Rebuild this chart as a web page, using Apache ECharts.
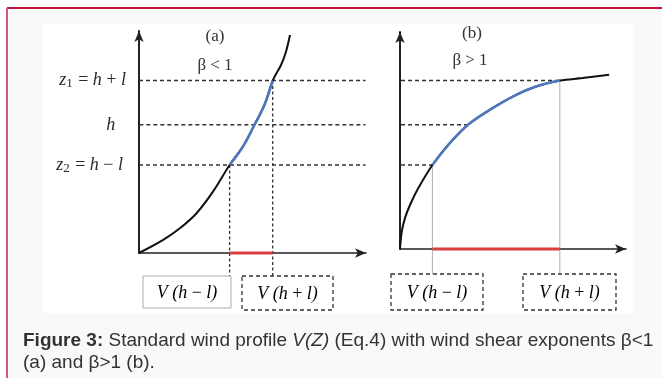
<!DOCTYPE html>
<html><head><meta charset="utf-8">
<script src="https://cdn.jsdelivr.net/npm/echarts@6/dist/echarts.min.js"></script>
<style>html,body{margin:0;padding:0;background:#fff}#c{width:662px;height:378px}</style>
</head><body><div id="c"></div>
<script>
// ---- data (abstract units: V horizontal, z vertical) ----
const levels = [77.6, 57.7, 39.6];                 // z1 = h+l, h, z2 = h-l
const levelLabels = [
  '{i|z}{s|1}{r| = }{i|h}{r| + }{i|l}',
  '{i|h}',
  '{i|z}{s|2}{r| = }{i|h}{r| − }{i|l}'
];
const curveA_V = [0, 10.9, 18.4, 25.9, 33.3, 40.8, 46.8, 52.0, 56.5, 60.2, 64.0, 66.2, 68.0];
const curveA_Z = [0, 5.9, 11.1, 17.9, 27.6, 39.6, 47.9, 57.7, 66.7, 77.6, 84.7, 90.7, 98.2];
const curveB_V = [0, 0.8, 2.2, 4.5, 8.2, 14.6, 21.7, 30.6, 40.4, 50.8, 61.3, 72.0, 82.2, 94.2];
const curveB_Z = [1.8, 9.6, 15.6, 21.6, 29.1, 39.6, 48.6, 57.7, 64.4, 70.4, 74.9, 77.6, 78.7, 80.2];
const crossA = [60.2, 52.0, 40.8];                 // V on curve (a) at z1, h, z2
const crossB = [72.0, 30.6, 14.6];                 // V on curve (b) at z1, h, z2
const panelTitles = ['(a)', '(b)'];
const betaLabels = ['β < 1', 'β > 1'];
const boxLabels = ['{i|V}{i| (}{i|h}{r| − }{i|l}{i|)}', '{i|V}{i| (}{i|h}{r| + }{i|l}{i|)}'];
const captionText = '{b|Figure 3:} Standard wind profile {it|V(Z)} (Eq.4) with wind shear exponents β<1\n(a) and β>1 (b).';

// ---- styles ----
const SERIF = '"Liberation Serif","DejaVu Serif",serif';
const SANS = '"Liberation Sans",Arial,sans-serif';
const INK = '#2a2a2a';
function mathRich(size) {
  return {
    i: {fontFamily: SERIF, fontStyle: 'italic', fontSize: size, color: INK, lineHeight: size + 2},
    r: {fontFamily: SERIF, fontSize: size, color: INK, lineHeight: size + 2},
    s: {fontFamily: SERIF, fontSize: Math.round(size * 0.7), color: INK, lineHeight: Math.round(size * 0.7),
        verticalAlign: 'bottom', padding: [Math.round(size * 0.45), 1, 0, 0]}
  };
}

const zip = (a, b) => a.map((v, i) => [v, b[i]]);
const between = (V, Z) => zip(V, Z).filter(p => p[1] >= levels[2] - 0.01 && p[1] <= levels[0] + 0.01);

const series = [];
function line(gi, data, color, width, dash, extra) {
  series.push(Object.assign({
    type: 'line', xAxisIndex: gi, yAxisIndex: gi, data: data, showSymbol: false, symbol: 'none',
    clip: false, silent: true, animation: false,
    lineStyle: {color: color, width: width, type: dash || 'solid'}
  }, extra || {}));
}

// horizontal dashed level lines across both panels
const startsA = [0, -3, 0];
const labelDist = [13, 17, 16];
levels.forEach((z, k) => {
  line(0, [[startsA[k], z], [102, z]], '#333', 1.4, [4, 3]);
  line(1, [[-15.3, z], [crossB[k], z]], '#333', 1.4, [4, 3]);
});
// level labels (z1, h, z2) at the start of each level line
series.push({
  type: 'scatter', xAxisIndex: 0, yAxisIndex: 0, silent: true, animation: false, clip: false,
  symbol: 'circle', symbolSize: 0, itemStyle: {color: INK, opacity: 1},
  data: levels.map((z, k) => ({value: [startsA[k], z],
    label: {show: true, position: 'left', distance: labelDist[k], color: INK, opacity: 1,
      formatter: levelLabels[k], rich: mathRich(18)}}))
});

// vertical guides
[0, 2].forEach(k => {
  line(0, [[crossA[k], levels[k]], [crossA[k], -10.4]], '#333', 1.3, [3, 2.5]);
  line(1, [[crossB[k], levels[k]], [crossB[k], -9.5]], '#999', 0.8);
});

// red V-range on the axes
line(0, [[crossA[2], 0], [crossA[0], 0]], '#d8413f', 3);
line(1, [[crossB[2], curveB_Z[0]], [crossB[0], curveB_Z[0]]], '#d8413f', 3);

// curves
const sm = {smooth: 0.35};
line(0, zip(curveA_V, curveA_Z), '#111', 2, null, sm);
line(0, between(curveA_V, curveA_Z), '#4f78bd', 2.6, null, sm);
line(1, zip(curveB_V, curveB_Z), '#111', 2, null, sm);
line(1, between(curveB_V, curveB_Z), '#4f78bd', 2.6, null, sm);

function axis(gi, min, max, isX) {
  return {
    type: 'value', min: min, max: max, gridIndex: gi,
    axisLine: {show: true, onZero: false, symbol: ['none', 'arrow'], symbolSize: [7, 11],
      lineStyle: {color: '#222', width: isX ? 1.6 : 2}},
    axisTick: {show: false}, axisLabel: {show: false}, splitLine: {show: false}
  };
}

function boxes() {
  const defs = [
    {x: 143, y: 276, w: 88, h: 32, stroke: '#aaa', dash: null, lw: 1, t: boxLabels[0]},
    {x: 242, y: 276, w: 91, h: 34, stroke: '#333', dash: [4, 3], lw: 1.3, t: boxLabels[1]},
    {x: 391, y: 274, w: 92, h: 36, stroke: '#333', dash: [4, 3], lw: 1.3, t: boxLabels[0]},
    {x: 523, y: 274, w: 93, h: 36, stroke: '#333', dash: [4, 3], lw: 1.3, t: boxLabels[1]}
  ];
  const out = [];
  defs.forEach(d => {
    out.push({type: 'rect', shape: {x: d.x, y: d.y, width: d.w, height: d.h}, z: 10,
      style: {fill: 'none', stroke: d.stroke, lineWidth: d.lw, lineDash: d.dash}});
    out.push({type: 'text', x: d.x + d.w / 2, y: d.y + d.h / 2 + 1, z: 10,
      style: {text: d.t, rich: mathRich(18), align: 'center', verticalAlign: 'middle'}});
  });
  return out;
}

const tStyle = {fontFamily: SERIF, fontWeight: 'normal', fontSize: 17, color: '#333'};
const chart = echarts.init(document.getElementById('c'), null, {renderer: 'canvas'});
chart.setOption({
  animation: false,
  backgroundColor: '#fff',
  title: [
    {text: panelTitles[0], left: 215, top: 28, textAlign: 'center', padding: 0, textStyle: tStyle},
    {text: betaLabels[0], left: 215, top: 57, textAlign: 'center', padding: 0, textStyle: tStyle},
    {text: panelTitles[1], left: 472, top: 25, textAlign: 'center', padding: 0, textStyle: tStyle},
    {text: betaLabels[1], left: 470, top: 52, textAlign: 'center', padding: 0, textStyle: tStyle},
    {text: captionText, left: 23, top: 330, padding: 0,
      textStyle: {fontFamily: SANS, fontWeight: 'normal', fontSize: 19, color: '#333', lineHeight: 22,
        rich: {b: {fontFamily: SANS, fontWeight: 'bold', fontSize: 19, color: '#333', lineHeight: 22},
               it: {fontFamily: SANS, fontStyle: 'italic', fontSize: 19, color: '#333', lineHeight: 22}}}}
  ],
  grid: [
    {left: 139, top: 31, width: 227, bottom: 125},
    {left: 400, top: 32, width: 226, bottom: 129}
  ],
  xAxis: [axis(0, 0, 102.2, true), axis(1, 0, 101.8, true)],
  yAxis: [axis(0, 0, 99.9, false), axis(1, curveB_Z[0], 99.45, false)],
  graphic: [
    {type: 'rect', shape: {x: 7, y: 8, width: 655, height: 370}, style: {fill: '#faf8f9'}, z: -10},
    {type: 'rect', shape: {x: 43, y: 24, width: 590, height: 289}, style: {fill: '#ffffff'}, z: -9},
    {type: 'line', shape: {x1: 7, y1: 8, x2: 662, y2: 8}, style: {stroke: '#c4123c', lineWidth: 2}, z: 5},
    {type: 'line', shape: {x1: 7, y1: 8, x2: 7, y2: 378}, style: {stroke: '#cc5a7c', lineWidth: 2}, z: 5}
  ].concat(boxes()),
  series: series
});
</script></body></html>
